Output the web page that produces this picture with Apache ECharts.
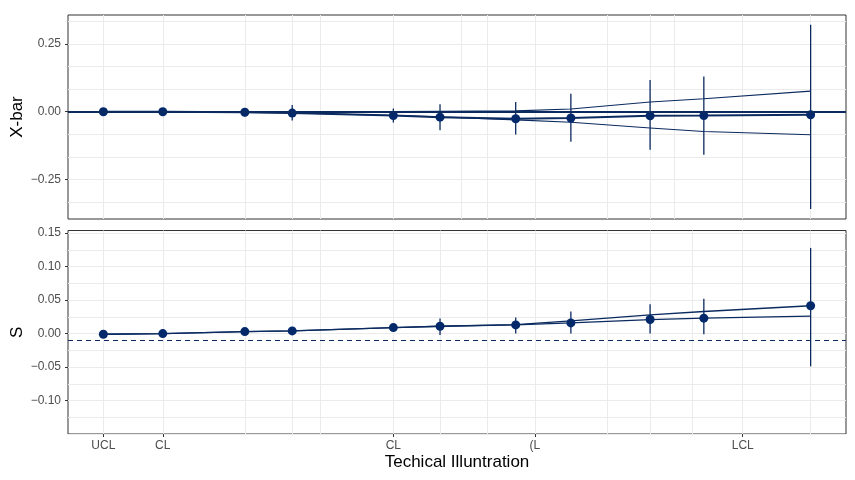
<!DOCTYPE html>
<html>
<head>
<meta charset="utf-8">
<script src="https://cdn.jsdelivr.net/npm/echarts@6/dist/echarts.min.js"></script>
<style>
  html, body { margin: 0; padding: 0; background: #fff; }
  #chart { width: 855px; height: 480px; }
</style>
</head>
<body>
<div id="chart"></div>
<script>
// sample positions on the shared x axis
var xPos = [0, 8.4, 20.0, 26.7, 41.0, 47.6, 58.3, 66.1, 77.3, 84.9, 100];

// X-bar panel
var xbarMean = [0.000, 0.000, -0.002, -0.005, -0.014, -0.020, -0.026, -0.023, -0.015, -0.014, -0.011];
var xbarLo   = [0.000, 0.000, -0.018, -0.032, -0.040, -0.068, -0.084, -0.111, -0.140, -0.159, -0.359];
var xbarHi   = [0.000, 0.000, 0.012, 0.025, 0.012, 0.028, 0.036, 0.066, 0.117, 0.130, 0.321];
var xbarUpper = [0.000, 0.000, 0.000, 0.000, 0.001, 0.002, 0.003, 0.010, 0.036, 0.048, 0.076];
var xbarLower = [0.000, -0.001, -0.003, -0.005, -0.014, -0.019, -0.030, -0.039, -0.060, -0.073, -0.085];
var xbarCenter = 0;

// S panel
var sPoint = [-0.001, 0.000, 0.003, 0.004, 0.009, 0.011, 0.013, 0.016, 0.021, 0.023, 0.0416];
var sLineA = [-0.001, 0.000, 0.003, 0.004, 0.009, 0.011, 0.0135, 0.019, 0.028, 0.033, 0.0416];
var sLineB = [-0.001, 0.000, 0.003, 0.004, 0.009, 0.011, 0.013, 0.016, 0.021, 0.023, 0.026];
var sLo    = [-0.001, 0.000, 0.003, 0.004, 0.009, -0.002, 0.000, 0.000, 0.000, -0.001, -0.049];
var sHi    = [-0.001, 0.000, 0.003, 0.004, 0.009, 0.0227, 0.024, 0.033, 0.044, 0.052, 0.128];
var sRef = -0.007;

// axis breaks
var xLabelPos = [0, 8.4, 41.0, 61.0, 90.4];
var xLabelText = ["UCL", "CL", "CL", "(L", "LCL"];
var xGridTop = [0, 8.4, 20.0, 26.7, 30.6, 41.0, 50.6, 54.3, 61.0, 71.3, 77.3, 80.7, 90.4, 100];
var xGridBottom = [0, 8.4, 20.0, 26.7, 30.6, 41.0, 47.6, 54.3, 61.0, 71.3, 77.3, 83.2, 90.4, 100];
var yLabelTop = [-0.25, 0, 0.25];
var yGridTop = [-1/3, -0.25, -1/6, -1/12, 0, 1/12, 1/6, 0.25, 1/3];
var yLabelBottom = [-0.10, -0.05, 0, 0.05, 0.10, 0.15];
var yGridBottom = [-0.15, -0.125, -0.10, -0.075, -0.05, -0.025, 0, 0.025, 0.05, 0.075, 0.10, 0.125, 0.15];

var NAVY = "#0b2a5f";
var DOT = "#03296b";
var FONT = "Liberation Sans";

function fmt2(v) {
  var s = Math.abs(v).toFixed(2);
  return (v < -1e-9 ? "\u2212" : "") + s;
}
function pairs(xs, ys) {
  return xs.map(function (x, i) { return [x, ys[i]]; });
}
function bars(xs, lo, hi) {
  var out = [];
  xs.forEach(function (x, i) {
    if (hi[i] - lo[i] > 0.0005) out.push([x, lo[i], hi[i]]);
  });
  return out;
}
function errorBar(params, api) {
  var a = api.coord([api.value(0), api.value(1)]);
  var b = api.coord([api.value(0), api.value(2)]);
  return {
    type: "line",
    shape: { x1: a[0], y1: a[1], x2: b[0], y2: b[1] },
    style: { stroke: NAVY, lineWidth: 1.3 }
  };
}

// one axis only for grid lines, another one for ticks and labels
function gridAxis(gi, min, max, lines, pos) {
  return {
    type: "value", gridIndex: gi, position: pos, min: min, max: max,
    axisLine: { show: false, onZero: false },
    axisTick: { show: false, customValues: lines },
    axisLabel: { show: false },
    splitLine: { show: true, lineStyle: { color: "#ebebeb", width: 1 } }
  };
}
function labelAxis(gi, min, max, pos, values, formatter, name) {
  var isY = pos === "left";
  return {
    type: "value", gridIndex: gi, position: pos, min: min, max: max,
    name: name, nameLocation: "middle", nameGap: isY ? 42 : 20,
    nameMoveOverlap: false,
    nameTextStyle: { color: "#000", fontSize: 17, fontFamily: FONT },
    axisLine: { show: false, onZero: false },
    axisTick: { show: true, length: 3, customValues: values, lineStyle: { color: "#333" } },
    axisLabel: {
      show: true, customValues: values, formatter: formatter, margin: isY ? 7 : 6,
      color: "#4d4d4d", fontSize: 12, fontFamily: FONT
    },
    splitLine: { show: false }
  };
}

var chart = echarts.init(document.getElementById("chart"));
chart.setOption({
  animation: false,
  backgroundColor: "#fff",
  grid: [
    { left: 68, right: 9, top: 15, height: 204, show: true, borderColor: "#333", borderWidth: 1,
      containLabel: false, outerBoundsMode: "none" },
    { left: 68, right: 9, top: 230.5, height: 203.5, show: true, borderColor: "#333", borderWidth: 1,
      containLabel: false, outerBoundsMode: "none" }
  ],
  xAxis: [
    gridAxis(0, -5, 105, xGridTop, "bottom"),
    gridAxis(1, -5, 105, xGridBottom, "bottom"),
    labelAxis(1, -5, 105, "bottom", xLabelPos, function (v) {
      var i = xLabelPos.indexOf(v);
      return i >= 0 ? xLabelText[i] : "";
    }, "Techical Illuntration")
  ],
  yAxis: [
    gridAxis(0, -0.396, 0.357, yGridTop, "left"),
    gridAxis(1, -0.15, 0.154, yGridBottom, "left"),
    labelAxis(0, -0.396, 0.357, "left", yLabelTop, fmt2, "X-bar"),
    labelAxis(1, -0.15, 0.154, "left", yLabelBottom, fmt2, "S")
  ],
  series: [
    // X-bar panel
    {
      type: "line", xAxisIndex: 0, yAxisIndex: 0, data: pairs(xPos, xbarUpper),
      showSymbol: false, lineStyle: { color: NAVY, width: 1.1 }, z: 2
    },
    {
      type: "line", xAxisIndex: 0, yAxisIndex: 0, data: pairs(xPos, xbarLower),
      showSymbol: false, lineStyle: { color: NAVY, width: 1.1 }, z: 2
    },
    {
      type: "line", xAxisIndex: 0, yAxisIndex: 0, data: pairs(xPos, xbarMean),
      showSymbol: false, lineStyle: { color: NAVY, width: 2 }, z: 2,
      markLine: {
        silent: true, symbol: ["none", "none"], label: { show: false },
        lineStyle: { color: NAVY, width: 2.2, type: "solid" },
        data: [{ yAxis: xbarCenter }]
      }
    },
    {
      type: "custom", xAxisIndex: 0, yAxisIndex: 0, renderItem: errorBar,
      encode: { x: 0, y: [1, 2] }, data: bars(xPos, xbarLo, xbarHi), z: 3
    },
    {
      type: "scatter", xAxisIndex: 0, yAxisIndex: 0, data: pairs(xPos, xbarMean),
      symbolSize: 9, itemStyle: { color: DOT, opacity: 1 }, z: 4
    },
    // S panel
    {
      type: "line", xAxisIndex: 1, yAxisIndex: 1, data: pairs(xPos, sLineA),
      showSymbol: false, lineStyle: { color: NAVY, width: 1.3 }, z: 2,
      markLine: {
        silent: true, symbol: ["none", "none"], label: { show: false },
        lineStyle: { color: NAVY, width: 1.2, type: [5, 4] },
        data: [{ yAxis: sRef }]
      }
    },
    {
      type: "line", xAxisIndex: 1, yAxisIndex: 1, data: pairs(xPos, sLineB),
      showSymbol: false, lineStyle: { color: NAVY, width: 1.3 }, z: 2
    },
    {
      type: "custom", xAxisIndex: 1, yAxisIndex: 1, renderItem: errorBar,
      encode: { x: 0, y: [1, 2] }, data: bars(xPos, sLo, sHi), z: 3
    },
    {
      type: "scatter", xAxisIndex: 1, yAxisIndex: 1, data: pairs(xPos, sPoint),
      symbolSize: 9, itemStyle: { color: DOT, opacity: 1 }, z: 4
    }
  ]
});
</script>
</body>
</html>
